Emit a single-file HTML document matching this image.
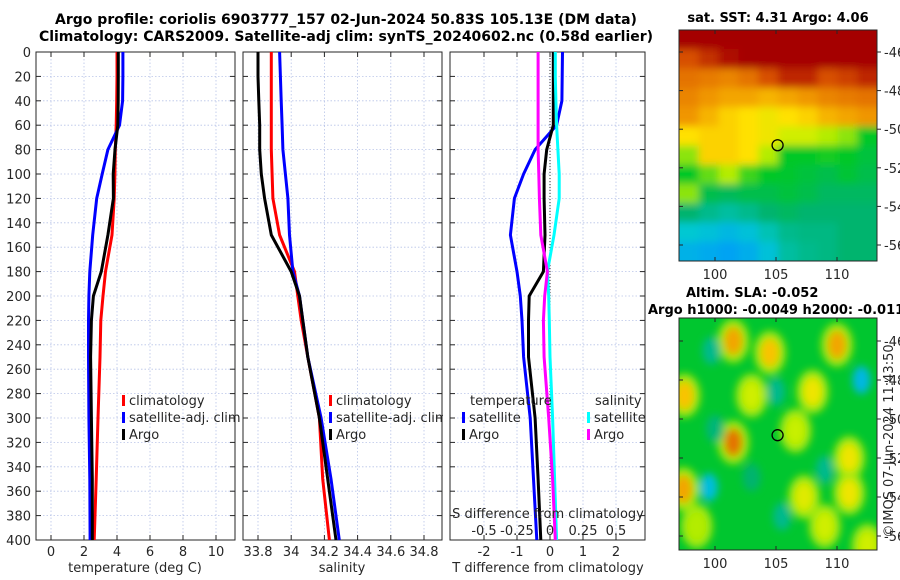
<!DOCTYPE html>
<html><head><meta charset="utf-8">
<style>
body{margin:0;background:#fff;}
svg{display:block;font-family:"DejaVu Sans","Liberation Sans",sans-serif;}
</style></head>
<body>
<svg id="fig" width="900" height="580" viewBox="0 0 900 580"></svg>
<script>
// ---------- data ----------
const depths = [0,20,40,60,80,100,120,150,180,200,220,250,300,350,400];
const tempClim = [4.0,4.0,3.98,3.95,3.9,3.87,3.83,3.7,3.3,3.15,3.02,2.97,2.85,2.74,2.62];
const tempSat  = [4.36,4.36,4.34,4.15,3.45,3.1,2.77,2.53,2.35,2.3,2.27,2.27,2.3,2.35,2.37];
const tempArgo = [4.08,4.08,4.07,4.05,3.88,3.77,3.78,3.45,3.05,2.57,2.45,2.4,2.45,2.5,2.5];
const salClim  = [33.88,33.88,33.88,33.88,33.88,33.885,33.89,33.93,34.02,34.04,34.06,34.1,34.17,34.19,34.23];
const salSat   = [33.93,33.935,33.94,33.945,33.95,33.965,33.98,33.99,34.01,34.05,34.07,34.1,34.18,34.24,34.29];
const salArgo  = [33.8,33.8,33.805,33.81,33.81,33.82,33.84,33.88,34.0,34.05,34.07,34.1,34.17,34.22,34.27];
const dTsat    = [0.38,0.37,0.36,0.2,-0.45,-0.8,-1.08,-1.2,-1.0,-0.9,-0.85,-0.8,-0.6,-0.5,-0.4];
const dTargo   = [0.1,0.1,0.1,0.1,-0.1,-0.18,-0.18,-0.15,-0.2,-0.63,-0.65,-0.65,-0.45,-0.36,-0.28];
const dSsat    = [0.04,0.04,0.045,0.05,0.06,0.07,0.07,0.03,-0.02,-0.01,-0.005,0.0,0.02,0.035,0.05];
const dSargo   = [-0.09,-0.09,-0.09,-0.09,-0.09,-0.085,-0.08,-0.07,-0.02,-0.04,-0.05,-0.045,-0.01,0.02,0.04];
const depthTicks = [0,20,40,60,80,100,120,140,160,180,200,220,240,260,280,300,320,340,360,380,400];
const tTicks = [0,2,4,6,8,10];
const sTicks = ["33.8","34","34.2","34.4","34.6","34.8"];
const dTTicks = [-2,-1,0,1,2];
const dSTicks = ["-0.5","-0.25","0","0.25","0.5"];
const sstGrid = [
[1,1,1,1,1,1,1,1,1,1],
[.9,.94,.98,1,1,1,1,1,1,1],
[.86,.85,.84,.86,.9,.95,.95,.9,.92,.95],
[.84,.82,.8,.8,.78,.8,.82,.84,.85,.86],
[.82,.78,.74,.72,.7,.72,.74,.78,.8,.82],
[.72,.74,.74,.72,.7,.66,.66,.64,.62,.55],
[.62,.74,.74,.72,.64,.55,.55,.56,.55,.52],
[.55,.6,.64,.58,.55,.54,.52,.5,.53,.5],
[.62,.5,.48,.5,.5,.52,.5,.47,.47,.47],
[.45,.42,.4,.42,.45,.47,.45,.45,.45,.45],
[.35,.33,.3,.33,.38,.42,.43,.43,.45,.45],
[.28,.26,.24,.27,.33,.4,.42,.43,.45,.45]];
const slaLon = [101.5,104.5,110,97.5,101.5,97.4,108,111,111,107.3,103,106.6,109,112.5,98.5,105,112,99.5,109,99.7,105.5,100,103];
const slaLat = [-46,-46.6,-46.2,-48.8,-51.2,-53.6,-48.6,-52,-53.8,-54,-48.8,-50.6,-55.5,-56.5,-55.5,-48.6,-48,-53.5,-52.6,-46.5,-55,-50.5,-53];
const slaVal = [.8,.76,.8,.76,.86,.8,.7,.7,.7,.68,.66,.65,.66,.66,.64,.42,.3,.32,.42,.42,.42,.44,.45];
const lonTicks = [100,105,110];
const latTicks = [-46,-48,-50,-52,-54,-56];

// ---------- helpers ----------
const NS="http://www.w3.org/2000/svg";
const svg=document.getElementById('fig');
function mk(tag,attrs,parent){const e=document.createElementNS(NS,tag);for(const k in attrs)e.setAttribute(k,attrs[k]);(parent||svg).appendChild(e);return e;}
function txt(s,x,y,opt,parent){const e=mk('text',Object.assign({x:x,y:y,'font-size':13,fill:'#262626'},opt||{}),parent);e.textContent=s;return e;}
const yTop=52,yBot=540;
function yD(d){return yTop+(yBot-yTop)*d/400;}
function lin(d0,d1,p0,p1){return v=>p0+(v-d0)*(p1-p0)/(d1-d0);}

function panel(name,x0,x1,xs,ticks,tickVals,xlabel,xlabelX){
  const g=mk('g',{});
  
  
  depthTicks.forEach(d=>{mk('line',{x1:x0,x2:x1,y1:yD(d),y2:yD(d),stroke:'#b8c4e8','stroke-width':0.8,'stroke-dasharray':'1.5,2'},g);});
  tickVals.forEach(v=>{mk('line',{x1:xs(v),x2:xs(v),y1:yTop,y2:yBot,stroke:'#b8c4e8','stroke-width':0.8,'stroke-dasharray':'1.5,2'},g);});
  mk('rect',{x:x0,y:yTop,width:x1-x0,height:yBot-yTop,fill:'none',stroke:'#262626','stroke-width':1},g);
  depthTicks.forEach(d=>{mk('line',{x1:x0,x2:x0+5,y1:yD(d),y2:yD(d),stroke:'#262626'},g);mk('line',{x1:x1,x2:x1-5,y1:yD(d),y2:yD(d),stroke:'#262626'},g);});
  tickVals.forEach((v,i)=>{mk('line',{x1:xs(v),x2:xs(v),y1:yBot,y2:yBot-5,stroke:'#262626'},g);mk('line',{x1:xs(v),x2:xs(v),y1:yTop,y2:yTop+5,stroke:'#262626'},g);
    const t=txt(ticks[i],xs(v),556,{'text-anchor':'middle'},g);});
  const xl=txt(xlabel,xlabelX,572,{'text-anchor':'middle'},g);
  
  
  return g;
}
function line(g,xs,vals,color,name,w){
  const p=mk('polyline',{points:vals.map((v,i)=>xs(v).toFixed(1)+','+yD(depths[i]).toFixed(1)).join(' '),fill:'none',stroke:color,'stroke-width':w||3,'stroke-linejoin':'round'},g);
  
  
}
function legend(g,x,y,color,label){
  mk('rect',{x:x,y:y-10,width:3,height:11,fill:color},g);
  const t=txt(label,x+7,y,{},g);
  
  
}

// titles
const t1=txt('Argo profile: coriolis 6903777_157 02-Jun-2024 50.83S 105.13E (DM data)',346,24,{'text-anchor':'middle','font-weight':'bold',fill:'#000','font-size':14});


const t2=txt('Climatology: CARS2009. Satellite-adj clim: synTS_20240602.nc (0.58d earlier)',346,41,{'text-anchor':'middle','font-weight':'bold',fill:'#000','font-size':14});



depthTicks.forEach(d=>{const t=txt(String(d),31,yD(d)+5,{'text-anchor':'end'});
  
  });

// panel 1 temperature
const xT=lin(0,10,51,216);
const g1=panel('temperature-panel',36,235,xT,tTicks.map(String),tTicks,'temperature (deg C)',135);
line(g1,xT,tempClim,'#ff0000','temp-climatology-line');
line(g1,xT,tempSat,'#0000ff','temp-satellite-line');
line(g1,xT,tempArgo,'#000000','temp-argo-line');
legend(g1,122,405,'#ff0000','climatology');
legend(g1,122,422,'#0000ff','satellite-adj. clim');
legend(g1,122,439,'#000000','Argo');

// panel 2 salinity
const xS=lin(33.8,34.8,258,424);
const g2=panel('salinity-panel',243,442,xS,sTicks,sTicks.map(Number),'salinity',342);
line(g2,xS,salClim,'#ff0000','sal-climatology-line');
line(g2,xS,salSat,'#0000ff','sal-satellite-line');
line(g2,xS,salArgo,'#000000','sal-argo-line');
legend(g2,329,405,'#ff0000','climatology');
legend(g2,329,422,'#0000ff','satellite-adj. clim');
legend(g2,329,439,'#000000','Argo');
mk('rect',{x:443,y:395,width:6,height:40,fill:'#fff'});

// panel 3 differences
const xDT=lin(0,1,550,583);
const xDS=lin(0,0.25,550,583);
const g3=panel('difference-panel',450,645,xDT,dTTicks.map(String),dTTicks,'T difference from climatology',548);
mk('line',{x1:550,x2:550,y1:yTop,y2:yBot,stroke:'#333','stroke-width':1,'stroke-dasharray':'1,2'},g3);
line(g3,xDT,dTsat,'#0000ff','dT-satellite-line');
line(g3,xDT,dTargo,'#000000','dT-argo-line');
line(g3,xDS,dSsat,'#00ffff','dS-satellite-line');
line(g3,xDS,dSargo,'#ff00ff','dS-argo-line');
txt('temperature',470,405,{},g3);
legend(g3,462,422,'#0000ff','satellite');
legend(g3,462,439,'#000000','Argo');
txt('salinity',595,405,{},g3);
legend(g3,587,422,'#00ffff','satellite');
legend(g3,587,439,'#ff00ff','Argo');
const sl=txt('S difference from climatology',548,518,{'text-anchor':'middle'},g3);


dSTicks.forEach(v=>{const t=txt(v,xDS(Number(v)),535,{'text-anchor':'middle'},g3);
  
  });

// ---------- maps ----------
const stops=[[0,[0,60,255]],[.2,[0,150,255]],[.35,[0,200,210]],[.45,[0,180,110]],[.55,[0,200,40]],[.65,[200,240,0]],[.72,[255,225,0]],[.82,[240,150,0]],[.9,[215,80,0]],[1,[165,0,0]]];
function cmap(v){for(let i=1;i<stops.length;i++){if(v<=stops[i][0]){const a=stops[i-1],b=stops[i];const f=(v-a[0])/(b[0]-a[0]);return 'rgb('+a[1].map((c,j)=>Math.round(c+(b[1][j]-c)*f)).join(',')+')';}}return 'rgb(165,0,0)';}
const mx0=679,mx1=877;
const xLon=lin(100,110,715,837);
const defs=mk('defs',{});
const c1=mk('clipPath',{id:'c1'},defs);mk('rect',{x:mx0,y:30,width:mx1-mx0,height:231},c1);
const c2=mk('clipPath',{id:'c2'},defs);mk('rect',{x:mx0,y:318,width:mx1-mx0,height:232},c2);
const f1=mk('filter',{id:'bl1',x:'-10%',y:'-10%',width:'120%',height:'120%'},defs);mk('feGaussianBlur',{stdDeviation:4},f1);
const f2=mk('filter',{id:'bl2',x:'-50%',y:'-50%',width:'200%',height:'200%'},defs);mk('feGaussianBlur',{stdDeviation:4},f2);

function mapAxes(g,yLat,y0,y1){
  mk('rect',{x:mx0,y:y0,width:mx1-mx0,height:y1-y0,fill:'none',stroke:'#262626'},g);
  lonTicks.forEach(l=>{mk('line',{x1:xLon(l),x2:xLon(l),y1:y1,y2:y1-4,stroke:'#262626'},g);mk('line',{x1:xLon(l),x2:xLon(l),y1:y0,y2:y0+4,stroke:'#262626'},g);
    const t=txt(String(l),xLon(l),y1+18,{'text-anchor':'middle'},g);});
  latTicks.forEach(l=>{mk('line',{x1:mx1,x2:mx1+4,y1:yLat(l),y2:yLat(l),stroke:'#262626'},g);mk('line',{x1:mx0,x2:mx0+4,y1:yLat(l),y2:yLat(l),stroke:'#262626'},g);
    const t=txt(String(l),884,yLat(l)+5,{},g);});
}
// SST map
const gm1=mk('g',{});


const yLat1=lin(-46,-56,52,245);
const gc1=mk('g',{'clip-path':'url(#c1)'},gm1);
const gb1=mk('g',{filter:'url(#bl1)'},gc1);
const cw=(mx1-mx0)/10,ch=231/12;
sstGrid.forEach((row,r)=>row.forEach((v,c)=>{const cell=mk('rect',{x:mx0+c*cw-(c==0?10:0),y:30+r*ch-(r==0?10:0),width:cw+1+(c==0||c==9?10:0),height:ch+1+(r==0||r==11?10:0),fill:cmap(v)},gb1);
  
  }));
mapAxes(gm1,yLat1,30,261);
const ring1=mk('circle',{cx:xLon(105.13),cy:yLat1(-50.83),r:5.5,fill:'none',stroke:'#000','stroke-width':1.3},gm1);


const mt1=txt('sat. SST: 4.31 Argo: 4.06',778,22,{'text-anchor':'middle','font-weight':'bold',fill:'#000'});



// SLA map
const gm2=mk('g',{});


const yLat2=lin(-46,-56,341,536);
const gc2=mk('g',{'clip-path':'url(#c2)'},gm2);
mk('rect',{x:mx0,y:318,width:mx1-mx0,height:232,fill:cmap(.54)},gc2);
const gb2=mk('g',{filter:'url(#bl2)'},gc2);
slaLon.forEach((lo,i)=>{const v=slaVal[i];
  if(v>0.6){const h=mk('ellipse',{cx:xLon(lo),cy:yLat2(slaLat[i]),rx:16,ry:22,fill:cmap(.63)},gb2);
    
    }
  const e=mk('ellipse',{cx:xLon(lo),cy:yLat2(slaLat[i]),rx:9,ry:14,fill:cmap(v)},gb2);
  
  });
mapAxes(gm2,yLat2,318,550);
const ring2=mk('circle',{cx:xLon(105.13),cy:yLat2(-50.83),r:5.5,fill:'none',stroke:'#000','stroke-width':1.3},gm2);


const mt2=txt('Altim. SLA: -0.052',686,297,{'font-weight':'bold',fill:'#000'});


const mt3=txt('Argo h1000: -0.0049 h2000: -0.011',648,314,{'font-weight':'bold',fill:'#000'});


const cr=txt('©IMOS 07-Jun-2024 11:43:50',0,0,{'text-anchor':'middle',transform:'translate(893,441) rotate(-90)'});


</script>
</body></html>
